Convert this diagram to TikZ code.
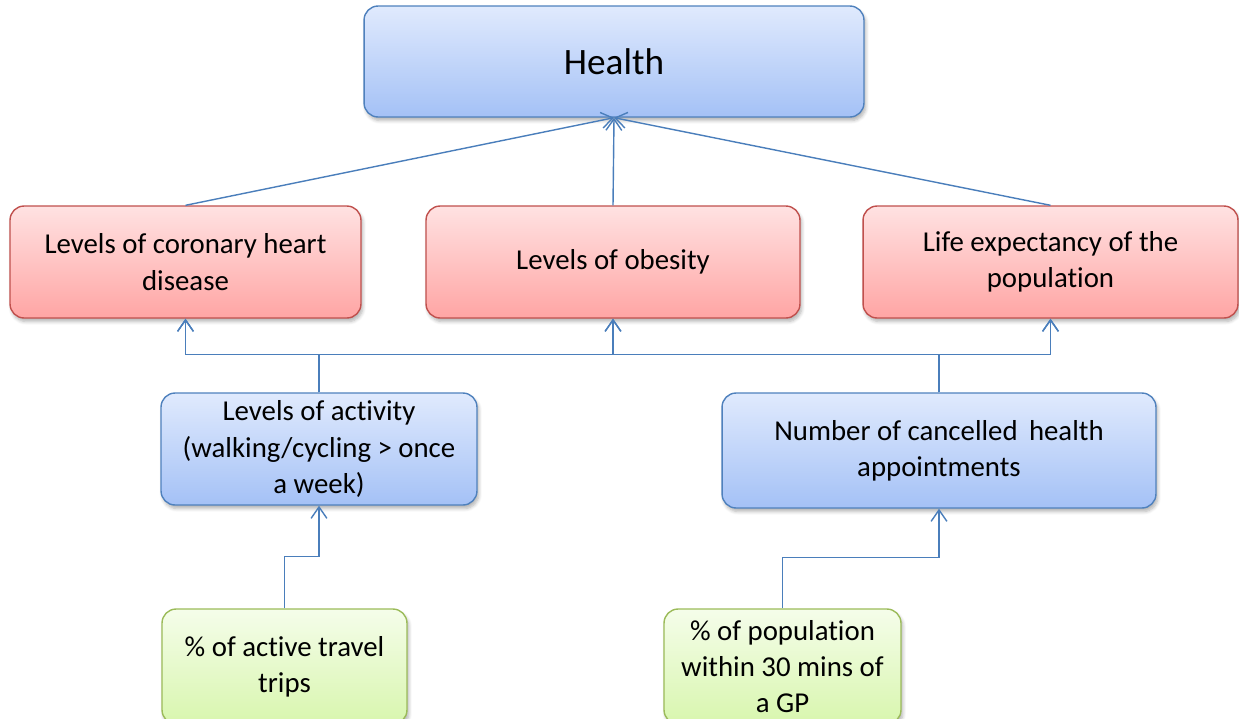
\documentclass[tikz,border=0pt]{standalone}
\usepackage{fontspec}
\setmainfont{Carlito}[Ligatures=NoCommon]
\usetikzlibrary{arrows.meta,shadows.blur}
\definecolor{bluetop}{HTML}{E0EAFD}
\definecolor{bluebot}{HTML}{A4C1F6}
\definecolor{blueedge}{HTML}{4F81BD}
\definecolor{redtop}{HTML}{FFE2E2}
\definecolor{redbot}{HTML}{FFA5A4}
\definecolor{rededge}{HTML}{C0504D}
\definecolor{greentop}{HTML}{F5FDEA}
\definecolor{greenbot}{HTML}{D8F6AE}
\definecolor{greenedge}{HTML}{9BBB59}
\definecolor{linecol}{HTML}{4A7EBB}
\tikzset{
  box/.style={rectangle, rounded corners=8pt, line width=0.8pt, align=center,
    inner sep=2pt, font=\fontsize{16.4}{20.6}\selectfont,
    blur shadow={shadow xshift=1pt, shadow yshift=-2pt, shadow opacity=30, shadow blur steps=6}},
  bluebox/.style={box, draw=blueedge, top color=bluetop, bottom color=bluebot},
  redbox/.style={box, draw=rededge, top color=redtop, bottom color=redbot},
  greenbox/.style={box, draw=greenedge, top color=greentop, bottom color=greenbot},
  arr/.style={draw=linecol, line width=0.8pt, -{Straight Barb[length=6.5pt,width=9pt]}},
}
\begin{document}
\begin{tikzpicture}[x=0.02cm,y=-0.02cm]
\useasboundingbox (0,0) rectangle (1239,718);
\node[bluebox, minimum width=10cm, minimum height=2.22cm, font=\fontsize{21.2}{26}\selectfont] (health) at (614,61.5) {Health};
\node[redbox, minimum width=7.02cm, minimum height=2.24cm] (chd) at (185.5,262) {Levels of coronary heart\\disease};
\node[redbox, minimum width=7.48cm, minimum height=2.24cm] (obes) at (613,262) {Levels of obesity};
\node[redbox, minimum width=7.5cm, minimum height=2.24cm] (life) at (1050.5,262) {Life expectancy of the\\population};
\node[bluebox, minimum width=6.32cm, minimum height=2.24cm] (act) at (319,449) {Levels of activity\\(walking/cycling > once\\a week)};
\node[bluebox, minimum width=8.68cm, minimum height=2.3cm] (appt) at (939,450.5) {Number of cancelled\, health\\appointments};
\node[greenbox, minimum width=4.9cm, minimum height=2.3cm] (trips) at (284.5,666.5) {\% of active travel\\trips};
\node[greenbox, minimum width=4.74cm, minimum height=2.3cm] (gp) at (782.5,666.5) {\% of population\\within 30 mins of\\a GP};

\draw[arr] (chd.north) -- (health.south);
\draw[arr] (obes.north) -- (health.south);
\draw[arr] (life.north) -- (health.south);

\draw[arr] (act.north) -- ++(0,-38) -| (chd.south);
\draw[arr] (act.north) -- ++(0,-38) -| (obes.south);
\draw[arr] (act.north) -- ++(0,-38) -| (life.south);
\draw[arr] (appt.north) -- ++(0,-38) -| (chd.south);
\draw[arr] (appt.north) -- ++(0,-38) -| (obes.south);
\draw[arr] (appt.north) -- ++(0,-38) -| (life.south);

\draw[arr] (trips.north) -- ++(0,-52) -| (act.south);
\draw[arr] (gp.north) -- ++(0,-51) -| (appt.south);
\end{tikzpicture}
\end{document}
